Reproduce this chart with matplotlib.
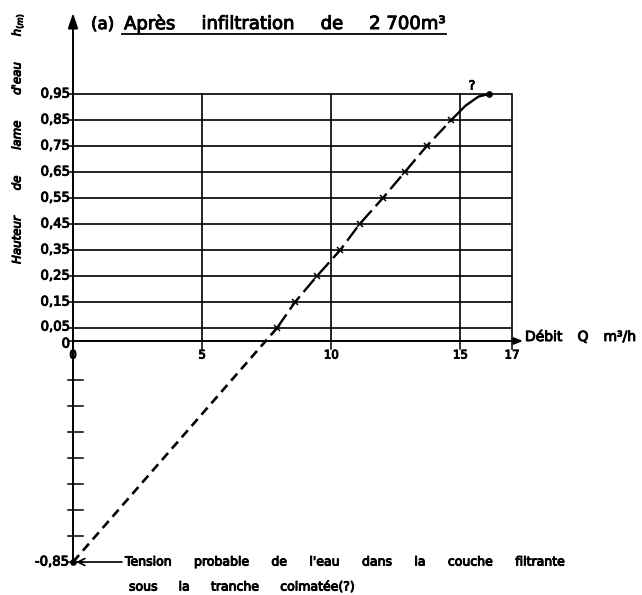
import matplotlib
matplotlib.use("Agg")
import matplotlib.pyplot as plt
import matplotlib.patheffects as pe
import numpy as np

# ---- data ----
Q_obs = [7.9, 8.6, 9.45, 10.35, 11.1, 12.0, 12.85, 13.7, 14.65]
h_obs = [0.05, 0.15, 0.25, 0.35, 0.45, 0.55, 0.65, 0.75, 0.85]
Q_top = [14.65, 15.2, 15.7, 16.1]
h_top = [0.85, 0.905, 0.94, 0.95]
Q_ext = [0.0, 7.9]
h_ext = [-0.85, 0.05]
y_ticks = [0, 0.05, 0.15, 0.25, 0.35, 0.45, 0.55, 0.65, 0.75, 0.85, 0.95]
y_labels = ["0", "0,05", "0,15", "0,25", "0,35", "0,45", "0,55", "0,65", "0,75", "0,85", "0,95"]
x_ticks = [0, 5, 10, 15, 17]
x_labels = ["0", "5", "10", "15", "17"]
neg_ticks = [-0.15, -0.25, -0.35, -0.45, -0.55, -0.65, -0.75, -0.85]
title_words = ["Après", "infiltration", "de", "2 700m³"]
note1_words = ["Tension", "probable", "de", "l'eau", "dans", "la", "couche", "filtrante"]
note2_words = ["sous", "la", "tranche", "colmatée(?)"]
ylabel_words = ["Hauteur", "de", "lame", "d'eau", "h$_{(m)}$"]
xlabel_words = ["Débit", "Q", "m³/h"]

W, H = 642, 595
fig = plt.figure(figsize=(W / 100, H / 100), dpi=100)
ax = fig.add_axes([0, 0, 1, 1])
ax.set_axis_off()
sx = (512 - 73) / 17.0
sy = (562 - 94) / 1.8
y0px = 94 + 0.95 * sy
ax.set_xlim(-73 / sx, (W - 73) / sx)
ax.set_ylim((y0px - H) / sy, y0px / sy)

def px2x(p):
    return (p - 73) / sx

def px2y(p):
    return (y0px - p) / sy

renderer = fig.canvas.get_renderer()
PE = [pe.withStroke(linewidth=0.7, foreground="black")]

def txt(x, y, s, **kw):
    return ax.text(x, y, s, path_effects=PE, **kw)

def justify(words, x0, x1, ypx, **kw):
    ts = [txt(0, px2y(ypx), w, ha="left", va="center", **kw) for w in words]
    widths = [t.get_window_extent(renderer).width for t in ts]
    gap = (x1 - x0 - sum(widths)) / max(len(words) - 1, 1)
    x = x0
    for t, wd in zip(ts, widths):
        t.set_x(px2x(x))
        x += wd + gap
    return ts

def justify_vert(words, xpx, y_bottom, y_top, **kw):
    ts = [txt(px2x(xpx), 0, w, ha="center", va="bottom", rotation=90, **kw) for w in words]
    hs = [t.get_window_extent(renderer).height for t in ts]
    gap = (y_bottom - y_top - sum(hs)) / max(len(words) - 1, 1)
    y = y_bottom
    for t, hh in zip(ts, hs):
        t.set_y(px2y(y))
        y -= hh + gap
    return ts

lc = "black"
glw = 1.2
for yv in y_ticks[1:]:
    ax.plot([0, 17], [yv, yv], color=lc, lw=glw, solid_capstyle="butt")
for xv in x_ticks[1:]:
    ax.plot([xv, xv], [0, 0.95], color=lc, lw=glw)
ax.annotate("", xy=(px2x(523), 0), xytext=(0, 0),
            arrowprops=dict(arrowstyle="-|>,head_length=0.5,head_width=0.2", color=lc, lw=1.4,
                            shrinkA=0, shrinkB=0))
ax.annotate("", xy=(0, px2y(13)), xytext=(0, -0.85),
            arrowprops=dict(arrowstyle="-|>,head_length=0.9,head_width=0.3", color=lc, lw=1.4,
                            shrinkA=0, shrinkB=0))

for yv in y_ticks:
    ax.plot([-0.2, 0], [yv, yv], color=lc, lw=1.1)
for xv in x_ticks:
    ax.plot([xv, xv], [0, -0.03], color=lc, lw=1.1)
for yv in neg_ticks:
    ax.plot([-0.2, 0.38], [yv, yv], color=lc, lw=1.1)

fs = 9.5
label_shift = {0: -3, 0.05: 1}
for yv, lab in zip(y_ticks, y_labels):
    ypx = y0px - yv * sy - label_shift.get(yv, 0)
    txt(px2x(70), px2y(ypx), lab, ha="right", va="center", fontsize=fs)
for xv, lab in zip(x_ticks, x_labels):
    txt(xv, px2y(355), lab, ha="center", va="center", fontsize=8.5)
txt(px2x(69), -0.85, "-0,85", ha="right", va="center", fontsize=fs)

ax.plot(Q_ext, h_ext, color=lc, lw=1.9, dashes=(3.5, 2.2))
ax.plot(Q_obs, h_obs, color=lc, lw=1.7, dashes=(7, 2.5), marker="x", ms=4, mew=1.1)
ax.plot(Q_top, h_top, color=lc, lw=1.7)
ax.plot([Q_top[-1]], [h_top[-1]], "o", color=lc, ms=3.8)
ax.plot([0], [-0.85], "o", color=lc, ms=3.8)
txt(px2x(472), px2y(86), "?", ha="center", va="center", fontsize=9)

justify(xlabel_words, 525, 636, 337, fontsize=10)
justify_vert(ylabel_words, 17, 264, 13, fontsize=8.5, style="italic")

txt(px2x(91), px2y(24), "(a)", ha="left", va="center", fontsize=12)
justify(title_words, 124, 445, 24, fontsize=13)
ax.plot([px2x(122), px2x(446)], [px2y(34), px2y(34)], color=lc, lw=1.3)

ax.annotate("", xy=(0.12, -0.85), xytext=(px2x(122), -0.85),
            arrowprops=dict(arrowstyle="->,head_length=0.5,head_width=0.25", color=lc, lw=1.2,
                            shrinkA=0, shrinkB=0))
justify(note1_words, 125, 565, 562, fontsize=9)
justify(note2_words, 129, 355, 587, fontsize=9)

fig.savefig("out.png", dpi=100)
